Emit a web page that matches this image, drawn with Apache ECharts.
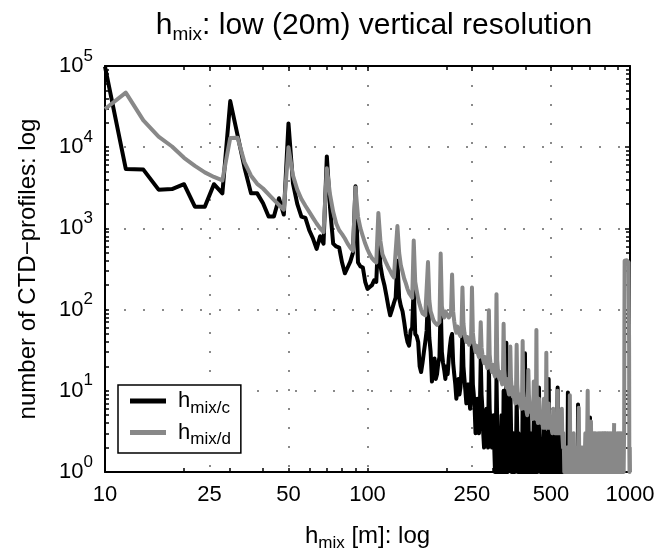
<!DOCTYPE html>
<html>
<head>
<meta charset="utf-8">
<script src="https://cdn.jsdelivr.net/npm/echarts@6/dist/echarts.min.js"></script>
<style>
html, body { margin: 0; padding: 0; background: #fff; }
#container { width: 670px; height: 557px; }
</style>
</head>
<body>
<div id="container"></div>
<script>
// bins are 2 m wide, the first one at 10 m
const binStart = 10
const binWidth = 2

// profiles per bin for h_mix/c (black), one row = 20 m; null = no profile
const countC = [
    98000, 5400, 5300, 3000, 3050, 3500, 1850, 1850, 3500, 2700,
    37000, 14000, 5600, 2700, 2700, 2040, 1400, 1400, 2350, 1480,
    19600, 3600, 2000, 1400, 1350, 950, 750, 560, 800, 650,
    7700, 1800, 650, 600, 580, 380, 280, 330, 390, 500,
    3300, 380, 340, 330, 220, 180, 190, 200, 230, 220,
    900, 350, 250, 200, 150, 110, 85, 100, 120, 140,
    400, 140, 110, 95, 70, 50, 40, 36, 55, 60,
    200, 50, 47, 40, 20, 17, 22, 30, 40, 55,
    150, 45, 30, 13, 20, 25, 14, 16, 22, 26,
    120, 30, 22, 18, 14, 20, 16, 25, 35, 45,
    50, 22, 16, 12, 8, 10, 14, 9, 11, 18,
    60, 20, 14, 10, 7, 9, 12, 8, 6, 10,
    45, 12, 9, 6, 3, 5, 8, 4, 3, 6,
    25, 9, 6, 3, 2, 3, 5, 6, 3, 2,
    20, 6, 4, 4, 2, 3, 5, 2, 1, 2,
    15, 4, 1, 2, 3, 1, 2, 5, 2, 1,
    10, 5, 2, 1, 39, 2, 1, 1, 4, 2,
    12, 4, 1, 2, 1, 3, 2, 1, 1, 2,
    8, 3, 1, 3, 1, 2, 1, 1, 2, 1,
    8, 4, 2, 1, 29, 2, 1, 2, 1, 1,
    6, 2, 1, 1, 2, 1, 3, 1, 1, 2,
    5, 2, 1, 2, 1, 4, 2, 1, 1, 2,
    11, 3, 2, 1, 1, 2, 1, 2, 1, 1,
    4, 2, 1, 1, 2, 3, 1, 1, 2, 1,
    14, 3, 1, 2, 1, 1, 3, 1, 1, 2,
    4, 2, 1, 1, 2, 1, 1, 2, 1, 1,
    11, 2, 1, 3, 2, 3, 3, 2, 3, 1,
    3, 1, 2, 1, 1, 2, 1, null, null, 1,
    null, null, null, null, 1, 9.5, 1, null, null, null,
    null, null, null, null, null, null, null, null, null, null,
    null, null, null, null, null, null, null, null, null, null,
    null, 1, 6.8, 1, null, null, null, null, null, null,
    null, null, null, null, null, null, null, null, null, null,
    null, null, null, null, null, null, null, null, null, null,
    null, null, null, null, null, null, 1, 4.7, 1, null,
    null, null, null, null, null, null, null, null, null, null,
    null, null, null, null, null, null, null, 1, 2.4, 1
]

// profiles per bin for h_mix/d (grey)
const countD = [
    29500, 47000, 21400, 13500, 10200, 7400, 5900, 4900, 4300, 3900,
    13000, 13100, 6500, 4460, 3540, 3100, 2630, 2240, 1940, 1700,
    10000, 4500, 3000, 2300, 1900, 1600, 1350, 1150, 1000, 900,
    5500, 2600, 1600, 1150, 950, 850, 750, 650, 580, 530,
    3200, 1400, 1000, 800, 650, 550, 480, 430, 400, 380,
    1550, 700, 480, 420, 370, 330, 300, 270, 250, 240,
    1070, 500, 350, 290, 240, 210, 180, 160, 150, 140,
    710, 220, 170, 135, 115, 100, 90, 88, 85, 82,
    385, 130, 95, 85, 75, 70, 68, 65, 62, 70,
    490, 110, 90, 80, 95, 100, 85, 80, 78, 90,
    270, 95, 72, 58, 52, 62, 56, 50, 47, 58,
    187, 68, 52, 44, 40, 46, 41, 37, 35, 42,
    187, 52, 40, 34, 30, 36, 32, 28, 26, 31,
    70, 34, 28, 24, 22, 26, 23, 21, 19, 22,
    98, 28, 22, 19, 17, 21, 18, 16, 15, 18,
    155, 24, 18, 15, 14, 17, 14, 13, 12, 15,
    67, 18, 14, 12, 11, 14, 11, 10, 9, 12,
    35, 14, 11, 9, 8.5, 11, 9, 8, 7, 10,
    37, 12, 9, 8, 7, 9, 7.5, 6.5, 6, 8,
    41, 10, 8, 7, 6, 8, 6.5, 5.5, 5, 7,
    18, 9, 7, 6, 5.5, 7, 5.5, 5, 4.5, 6,
    13, 7, 6, 5, 4.5, 56, 5, 4.5, 4, 5.5,
    8, 6, 5, 4.5, 4, 5.5, 4.5, 4, 3.5, 5,
    8, 5, 4.5, 4, 3.5, 29.5, 4, 3.5, 3.5, 4.5,
    7, 4.5, 4, 3.5, 3.5, 4.5, 3.5, 3.5, 3, 4,
    6, 4, 3.5, 3.5, 3, 4, 3.5, 3, 3, 3.5,
    10, 3.5, 3, 3.5, 3, 4, 3, 3, 3, 3.5,
    6, 3, 3, 2, 3, 2, 1, 2, 1, 2,
    2, 1, 2, 1, 2, 1, 2, 1, 2, 1,
    8.8, 2, 1, 2, 1, 2, 1, 2, 1, 2,
    3, 2, 1, 2, 1, 2, 2, 1, 2, 1,
    2, 1, 2, 2, 6.2, 2, 1, 2, 1, 2,
    2, 1, 2, 1, 2, 2, 1, 2, 1, 2,
    2, 1, 2, 3, 2, 1, 2, 1, 2, 2,
    10, 2, 1, 2, 1, 2, 1, 2, 1, 2,
    4.2, 2, 1, 2, 1, 2, 3, 2, 1, 2,
    2, 3, 2, 1, 2, 3, 2, 1, 2, 2,
    2, 1, 2, 3, 2, 1, 2, 3, 2, 1,
    2, 3, 2, 1, 2, 3, 2, 1, 3, 2,
    3, 2, 1, 3, 2, 3, 1, 2, 3, 2,
    3, 2, 1, 2, 3, 2, 1, 3, 2, 1,
    2, 3, 2, 1, 2, 3, 2, 1, 2, 3,
    2, 1, 2, 3, 2, 1, 2, 1, 1, 2,
    4, null, null, 1, 2, 1, 2, 3, 2, 1,
    2, 1, 3, 2, 1, 2, 3, 2, 1, 2,
    3, 2, 1, 2, 3, 2, 1, 2, 3, 2,
    1, 2, 3, 2, 1, 2, 3, 2, 1, 2,
    3, 60, 400, 390, 400, 410, 400, 390, 400, 395,
    400, 405, 400, 395, 400, 390, 400, 395, 400, 380,
    380, 40, 2, 1, 2, 1
]

const xLabels = [10, 25, 50, 100, 250, 500, 1000]
const yLabels = [1, 10, 100, 1000, 10000, 100000]

// tick positions of the log axes (1..9 per decade)
const xTicks = []
for (const d of [10, 100]) for (let m = 1; m <= 9; m++) xTicks.push(m * d)
xTicks.push(1000)
const yTicks = []
for (let d = 1; d <= 10000; d *= 10) for (let m = 1; m <= 9; m++) yTicks.push(m * d)
yTicks.push(100000)

const font = 'Liberation Sans, Arial, Helvetica, sans-serif'
const toPairs = counts => counts.map((v, i) => [binStart + i * binWidth, v == null ? '-' : v])

const frame = { show: true, onZero: false, lineStyle: { color: '#000', width: 2 } }
const dotted = { show: true, lineStyle: { color: '#8a8a8a', width: 2, type: [2, 17] } }
const tickLine = { color: '#000', width: 1.5 }

// axes that only carry tick marks or grid lines
const xExtra = (position, ticks, grid, length) => ({
    type: 'log', logBase: 10, min: 10, max: 1000, position,
    axisLine: grid === null ? { show: false } : frame,
    axisTick: { show: true, inside: true, length, customValues: ticks, lineStyle: tickLine },
    axisLabel: { show: false },
    splitLine: grid ? dotted : { show: false }
})
const yExtra = (position, ticks, grid, length) => ({
    type: 'log', logBase: 10, min: 1, max: 100000, position,
    axisLine: grid === null ? { show: false } : frame,
    axisTick: { show: true, inside: true, length, customValues: ticks, lineStyle: tickLine },
    axisLabel: { show: false },
    splitLine: grid ? dotted : { show: false }
})

const chart = echarts.init(document.getElementById('container'))

chart.setOption({
    animation: false,
    backgroundColor: '#fff',
    textStyle: { fontFamily: font },
    title: {
        text: '{h|h}{s|mix}{t|: low (20m) vertical resolution}',
        left: 369,
        top: 3,
        textAlign: 'center',
        textStyle: {
            fontWeight: 'normal',
            rich: {
                h: { fontSize: 30, fontFamily: font, fontWeight: 'normal', color: '#000' },
                s: { fontSize: 19, fontFamily: font, fontWeight: 'normal', color: '#000', padding: [17, 0, 0, 0] },
                t: { fontSize: 30, fontFamily: font, fontWeight: 'normal', color: '#000' }
            }
        }
    },
    grid: { left: 105, right: 40, top: 66, bottom: 75 },
    legend: {
        orient: 'vertical',
        left: 118,
        top: 385,
        icon: 'rect',
        itemWidth: 36,
        itemHeight: 5,
        itemGap: 5,
        padding: [5, 10, 5, 12],
        borderColor: '#000',
        borderWidth: 1.5,
        borderRadius: 0,
        backgroundColor: '#fff',
        formatter: name => `{h|h}{s|${name.slice(2)}}`,
        textStyle: {
            rich: {
                h: { fontSize: 22, fontFamily: font, color: '#000', padding: [0, 0, 0, 7] },
                s: { fontSize: 17, fontFamily: font, color: '#000', padding: [14, 0, 0, 0] }
            }
        }
    },
    xAxis: [
        {
            type: 'log',
            logBase: 10,
            min: 10,
            max: 1000,
            position: 'bottom',
            axisLine: frame,
            axisTick: { show: true, inside: true, length: 4, customValues: xTicks, lineStyle: tickLine },
            axisLabel: { customValues: xLabels, color: '#000', fontSize: 22, fontFamily: font, margin: 12, formatter: v => String(Math.round(v)) },
            splitLine: { show: false },
            name: '{h|h}{s|mix}{t| [m]: log}',
            nameLocation: 'middle',
            nameGap: 48,
            nameTextStyle: {
                rich: {
                    h: { fontSize: 24, fontFamily: font, color: '#000' },
                    s: { fontSize: 17, fontFamily: font, color: '#000', padding: [15, 0, 0, 0] },
                    t: { fontSize: 24, fontFamily: font, color: '#000' }
                }
            }
        },
        xExtra('top', xLabels, true, 5),
        xExtra('top', xTicks, null, 4)
    ],
    yAxis: [
        {
            type: 'log',
            logBase: 10,
            min: 1,
            max: 100000,
            position: 'left',
            axisLine: frame,
            axisTick: { show: true, inside: true, length: 4, customValues: yTicks, lineStyle: tickLine },
            axisLabel: {
                customValues: yLabels,
                margin: 12,
                formatter: v => `{b|10}{e|${Math.round(Math.log10(v))}}`,
                rich: {
                    b: { fontSize: 22, fontFamily: font, color: '#000' },
                    e: { fontSize: 17, fontFamily: font, color: '#000', padding: [0, 0, 20, 0] }
                }
            },
            splitLine: { show: false },
            name: 'number of CTD\u2212profiles: log',
            nameLocation: 'middle',
            nameGap: 65,
            nameTextStyle: { fontSize: 24, fontFamily: font, color: '#000' }
        },
        yExtra('right', yLabels, true, 5),
        yExtra('right', yTicks, null, 4)
    ],
    series: [
        {
            name: 'h_mix/c',
            type: 'line',
            xAxisIndex: 0,
            yAxisIndex: 0,
            symbol: 'none',
            connectNulls: false,
            color: '#000',
            lineStyle: { color: '#000', width: 4, join: 'round' },
            data: toPairs(countC)
        },
        {
            name: 'h_mix/d',
            type: 'line',
            xAxisIndex: 0,
            yAxisIndex: 0,
            symbol: 'none',
            connectNulls: false,
            color: '#888888',
            lineStyle: { color: '#888888', width: 4, join: 'round' },
            data: toPairs(countD)
        }
    ]
})
</script>
</body>
</html>
